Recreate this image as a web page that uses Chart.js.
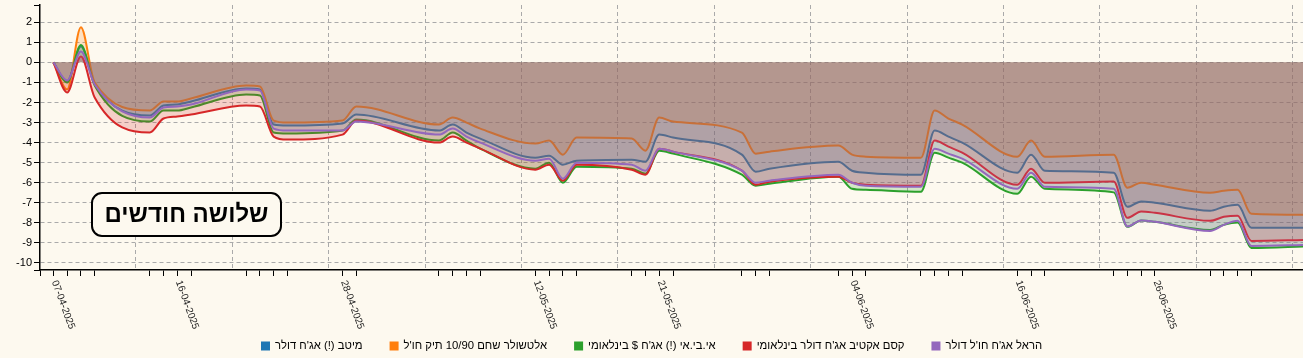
<!DOCTYPE html>
<html><head><meta charset="utf-8">
<script src="https://cdn.jsdelivr.net/npm/chart.js@4/dist/chart.umd.min.js"></script>
<style>
html,body{margin:0;padding:0;background:#fdf9ef;overflow:hidden;}
#wrap{width:1303px;height:358px;position:relative;}
</style></head><body>
<div id="wrap"><canvas id="c" width="1303" height="358"></canvas></div>
<script>
// ---- data ----
const dates = ['07-04-2025','08-04-2025','09-04-2025','10-04-2025',
 '14-04-2025','15-04-2025','16-04-2025','17-04-2025',
 '21-04-2025','22-04-2025','23-04-2025','24-04-2025',
 '28-04-2025','29-04-2025',
 '05-05-2025','06-05-2025','07-05-2025','08-05-2025',
 '12-05-2025','13-05-2025','14-05-2025','15-05-2025',
 '19-05-2025','20-05-2025','21-05-2025','22-05-2025',
 '27-05-2025','28-05-2025','29-05-2025',
 '03-06-2025','04-06-2025','05-06-2025',
 '09-06-2025','10-06-2025','11-06-2025','12-06-2025',
 '16-06-2025','17-06-2025','18-06-2025',
 '23-06-2025','24-06-2025','25-06-2025','26-06-2025',
 '30-06-2025','01-07-2025','02-07-2025','03-07-2025','07-07-2025'];

const tickLabelDates = ['07-04-2025','16-04-2025','28-04-2025','12-05-2025','21-05-2025','04-06-2025','16-06-2025','26-06-2025'];

const seriesNames = ["מיטב (!) אג'ח דולר","אלטשולר שחם 10/90 תיק חו'ל","אי.בי.אי (!) אג'ח $ בינלאומי","קסם אקטיב אג'ח דולר בינלאומי","הראל אג'ח חו'ל דולר"];

const meitav = [0,-0.95,0.79,-1.05, -2.65,-2.15,-2.1,-1.95, -1.3,-1.35,-3.1,-3.15, -3.05,-2.6,
 -3.4,-3.1,-3.5,-3.8, -4.75,-4.65,-5.1,-4.9, -4.85,-4.95,-3.6,-3.75, -4.6,-5.45,-5.3,
 -4.95,-5.4,-5.5, -5.6,-3.4,-3.7,-4.0, -5.5,-4.6,-5.4, -5.5,-7.2,-6.93,-7.0, -7.4,-7.2,-7.1,-8.25,-8.25];
const altshuler = [0,-1.35,1.75,-1.0, -2.4,-1.95,-1.95,-1.8, -1.15,-1.2,-2.9,-3.0, -2.9,-2.2,
 -3.1,-2.75,-3.0,-3.3, -4.05,-3.9,-4.6,-3.75, -3.8,-4.4,-2.75,-2.95, -3.5,-4.55,-4.45,
 -4.15,-4.6,-4.7, -4.75,-2.4,-2.8,-3.1, -4.7,-3.9,-4.7, -4.6,-6.25,-6.0,-6.1, -6.5,-6.4,-6.35,-7.55,-7.6];
const ibi = [0,-1.0,0.87,-1.15, -2.95,-2.4,-2.4,-2.25, -1.6,-1.65,-3.5,-3.55, -3.4,-2.85,
 -3.9,-3.5,-3.9,-4.3, -5.3,-5.0,-6.0,-5.2, -5.3,-5.55,-4.4,-4.55, -5.6,-6.15,-6.05,
 -5.7,-6.3,-6.35, -6.45,-4.5,-4.75,-5.0, -6.55,-5.7,-6.3, -6.48,-8.2,-7.88,-7.95, -8.35,-8.1,-7.98,-9.25,-9.17];
const kesem = [0,-1.5,0.29,-1.75, -3.5,-2.8,-2.7,-2.6, -2.15,-2.2,-3.7,-3.85, -3.6,-2.9,
 -4.0,-3.7,-4.0,-4.3, -5.35,-5.1,-5.9,-5.1, -5.35,-5.6,-4.3,-4.45, -5.4,-6.1,-5.95,
 -5.7,-6.0,-6.1, -6.15,-3.9,-4.2,-4.5, -6.1,-5.3,-6.0, -5.94,-7.75,-7.43,-7.5, -7.9,-7.7,-7.64,-8.9,-8.85];
const harel = [0,-0.9,0.54,-1.1, -2.75,-2.25,-2.2,-2.1, -1.35,-1.4,-3.3,-3.4, -3.4,-2.95,
 -3.6,-3.3,-3.7,-4.0, -4.9,-4.8,-5.8,-5.0, -5.1,-5.4,-4.3,-4.45, -5.4,-6.0,-5.9,
 -5.6,-6.0,-6.15, -6.2,-4.3,-4.55,-4.8, -6.3,-5.5,-6.2, -6.3,-8.18,-7.88,-7.95, -8.4,-8.1,-7.9,-9.15,-9.1];

const seriesValues = [meitav, altshuler, ibi, kesem, harel];
const seriesColors = ['#1f77b4','#ff7f0e','#2ca02c','#d62728','#9467bd'];
const annotationText = 'שלושה חודשים';

// ---- helpers ----
function parseDay(s){ const [d,m,y] = s.split('-').map(Number); return Date.UTC(y,m-1,d); }
const t0 = parseDay(dates[0]);
const dayIdx = s => Math.round((parseDay(s)-t0)/86400000);
const xs = dates.map(dayIdx);
function hexA(h,a){ const n=parseInt(h.slice(1),16); return `rgba(${n>>16&255},${n>>8&255},${n&255},${a})`; }

const X_MIN = -0.97, X_MAX = 90.75;
const Y_MIN = -10.35, Y_MAX = 2.86;
const FONT = '"Liberation Sans", Arial, "DejaVu Sans", sans-serif';
const BG = '#fdf9ef';
const GRID = '#aaaaaa';

const sundayStart = 6;
const sundays = [];
for (let v = sundayStart; v <= X_MAX; v += 7) sundays.push(v);
const isSunday = v => sundays.includes(v);
const dataTicks = xs.filter(v => v <= X_MAX);
const xTickVals = [X_MIN, ...dataTicks, ...sundays].sort((a,b)=>a-b);

const datasets = seriesNames.map((name,i)=>({
  label: name,
  data: xs.map((x,j)=>({x, y: seriesValues[i][j]})),
  borderColor: seriesColors[i],
  backgroundColor: hexA(seriesColors[i], 0.2),
  borderWidth: 2,
  pointRadius: 0,
  fill: 'origin',
  cubicInterpolationMode: 'monotone',
  order: seriesNames.length - i
}));

const bgPlugin = {
  id: 'bg',
  beforeDraw(chart){ const c=chart.ctx; c.save(); c.fillStyle=BG; c.fillRect(0,0,chart.width,chart.height); c.restore(); }
};

const overlayPlugin = {
  id: 'overlay',
  afterDraw(chart){
    const ctx = chart.ctx;
    const xScale = chart.scales.x;
    ctx.save();
    ctx.fillStyle = '#222';
    ctx.font = '10px ' + FONT;
    ctx.textAlign = 'left';
    ctx.textBaseline = 'middle';
    tickLabelDates.forEach(s => {
      const px = xScale.getPixelForValue(dayIdx(s));
      ctx.save();
      ctx.translate(px, 278);
      ctx.rotate(70*Math.PI/180);
      ctx.fillText(s, 3, 0);
      ctx.restore();
    });
    ctx.restore();

    // legend
    ctx.save();
    ctx.font = '11.3px ' + FONT;
    ctx.direction = 'rtl';
    ctx.textAlign = 'left';
    ctx.textBaseline = 'middle';
    const box = 9, gapBT = 5, gapItem = 27;
    const widths = chart.data.datasets.map(d => ctx.measureText(d.label).width);
    const total = widths.reduce((a,w)=>a+box+gapBT+w,0) + gapItem*(widths.length-1);
    let x = Math.round(chart.width/2 - total/2);
    const ly = 346;
    chart.data.datasets.forEach((d,i)=>{
      ctx.fillStyle = seriesColors[i];
      ctx.fillRect(x, ly-4.5, box, box);
      ctx.fillStyle = '#000';
      ctx.fillText(d.label, x+box+gapBT, ly);
      x += box + gapBT + widths[i] + gapItem;
    });
    ctx.restore();

    // annotation box
    ctx.save();
    const bx=92, by=193, bw=189, bh=43, r=10;
    ctx.beginPath();
    ctx.roundRect(bx,by,bw,bh,r);
    ctx.fillStyle = BG;
    ctx.fill();
    ctx.lineWidth = 2;
    ctx.strokeStyle = '#000';
    ctx.stroke();
    ctx.fillStyle = '#000';
    ctx.font = 'bold 24px ' + FONT;
    ctx.direction = 'rtl';
    ctx.textAlign = 'center';
    ctx.textBaseline = 'middle';
    ctx.fillText(annotationText, bx+bw/2, by+bh/2+1);
    ctx.restore();
  }
};

new Chart(document.getElementById('c'), {
  type: 'line',
  data: { datasets },
  plugins: [bgPlugin, overlayPlugin],
  options: {
    responsive: false,
    animation: false,
    events: [],
    layout: { padding: { top: 5, left: 0, right: 0, bottom: 0 } },
    plugins: { legend: { display: false }, tooltip: { enabled: false }, filler: { drawTime: 'beforeDatasetDraw' } },
    scales: {
      x: {
        type: 'linear', min: X_MIN, max: X_MAX,
        afterBuildTicks: s => { s.ticks = xTickVals.map(v => ({value: v})); },
        afterFit: s => { s.height = 88; s.paddingLeft = 0; s.paddingRight = 0; },
        ticks: { display: false, autoSkip: false },
        grid: {
          color: c => (c.tick && isSunday(c.tick.value)) ? GRID : 'rgba(0,0,0,0)',
          tickColor: c => (c.tick && isSunday(c.tick.value)) ? 'rgba(0,0,0,0)' : '#000',
          tickLength: 6, lineWidth: 1, drawTicks: true
        },
        border: { display: true, color: '#000', width: 1.5, dash: [4,3] }
      },
      y: {
        min: Y_MIN, max: Y_MAX,
        afterFit: s => { s.width = 40; s.paddingTop = 0; s.paddingBottom = 0; },
        afterBuildTicks: s => {
          const t = [Y_MIN];
          for (let v = Math.ceil(Y_MIN); v <= Math.floor(Y_MAX); v++) t.push(v);
          t.push(Y_MAX);
          s.ticks = t.map(v => ({value: v}));
        },
        ticks: {
          color: '#000', padding: 2, autoSkip: false,
          font: { size: 11, family: FONT },
          callback: v => Number.isInteger(v) ? String(v) : ''
        },
        grid: {
          color: c => (c.tick && Number.isInteger(c.tick.value)) ? GRID : 'rgba(0,0,0,0)',
          tickColor: '#000', tickLength: 6, lineWidth: 1
        },
        border: { display: true, color: '#000', width: 1.5, dash: [4,3] }
      }
    }
  }
});
</script>
</body></html>
